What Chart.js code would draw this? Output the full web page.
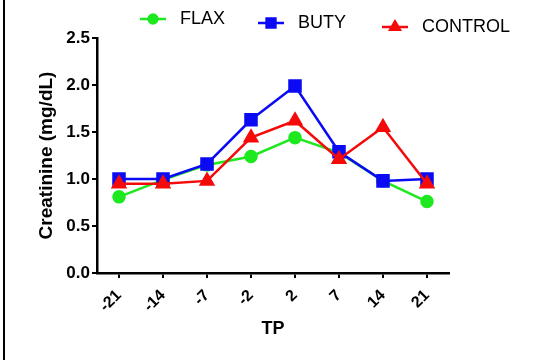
<!DOCTYPE html>
<html>
<head>
<meta charset="utf-8">
<script src="https://cdn.jsdelivr.net/npm/chart.js@4/dist/chart.umd.min.js"></script>
<style>
    html, body { margin: 0; padding: 0; background: #fff; }
    #wrap { position: relative; width: 550px; height: 360px; }
</style>
</head>
<body>
<div id="wrap"><canvas id="creatinineChart" width="550" height="360"></canvas></div>
<script>
// Données
const timePoints = ['-21', '-14', '-7', '-2', '2', '7', '14', '21'];
const flaxValues = [0.81, 0.99, 1.15, 1.24, 1.44, 1.28, 0.98, 0.76];
const butyValues = [1.00, 1.00, 1.16, 1.63, 1.99, 1.29, 0.98, 1.00];
const controlValues = [0.95, 0.95, 0.98, 1.44, 1.62, 1.21, 1.55, 0.95];
const yTicks = [0, 0.5, 1.0, 1.5, 2.0, 2.5];

const FONT = "'Liberation Sans', Arial, sans-serif";

/**
 * Cadre à gauche de la figure
 */
const framePlugin = {
    id: 'frame',
    beforeDraw(chart) {
        const ctx = chart.ctx;
        ctx.save();
        ctx.fillStyle = '#000';
        ctx.fillRect(3, 0, 2, chart.height);
        ctx.restore();
    }
};

/**
 * Légende décalée (chaque entrée à sa propre hauteur)
 */
const staggeredLegend = {
    id: 'staggeredLegend',
    afterDraw(chart, args, opts) {
        const ctx = chart.ctx;
        ctx.save();
        chart.data.datasets.forEach((ds, i) => {
            const pos = opts.items[i];
            ctx.strokeStyle = ds.borderColor;
            ctx.lineWidth = 2.5;
            ctx.beginPath();
            ctx.moveTo(pos.x, pos.y);
            ctx.lineTo(pos.x + 26, pos.y);
            ctx.stroke();
            Chart.helpers.drawPoint(ctx, {
                pointStyle: ds.pointStyle,
                radius: ds.pointRadius * 0.8,
                borderWidth: 1
            }, pos.x + 13, pos.y);
            ctx.fillStyle = ds.pointBackgroundColor;
            ctx.fill();
            ctx.fillStyle = '#000';
            ctx.font = '18px ' + FONT;
            ctx.textBaseline = 'middle';
            ctx.textAlign = 'left';
            ctx.fillText(ds.label, pos.x + 40, pos.y);
        });
        ctx.restore();
    }
};

function makeSeries(label, data, color, style, radius, order) {
    return {
        label: label,
        data: data,
        borderColor: color,
        backgroundColor: color,
        pointBackgroundColor: color,
        pointBorderColor: color,
        pointStyle: style,
        pointRadius: radius,
        pointHoverRadius: radius,
        borderWidth: 2.5,
        tension: 0,
        order: order
    };
}

document.addEventListener('DOMContentLoaded', function() {
    if (typeof Chart === 'undefined') {
        console.error('Chart.js n\'est pas chargé.');
        return;
    }

    new Chart(document.getElementById('creatinineChart'), {
        type: 'line',
        data: {
            labels: timePoints,
            datasets: [
                makeSeries('FLAX', flaxValues, '#1EE81E', 'circle', 5.5, 3),
                makeSeries('BUTY', butyValues, '#0A0AF5', 'rect', 7.8, 2),
                makeSeries('CONTROL', controlValues, '#F50A0A', 'triangle', 7, 1)
            ]
        },
        options: {
            responsive: false,
            animation: false,
            layout: {
                padding: { top: 38, right: 101, left: 0, bottom: 0 }
            },
            plugins: {
                legend: { display: false },
                tooltip: { enabled: false },
                staggeredLegend: {
                    items: [
                        { x: 140, y: 19 },
                        { x: 258, y: 23 },
                        { x: 382, y: 27 }
                    ]
                }
            },
            scales: {
                x: {
                    type: 'category',
                    offset: true,
                    afterFit(scale) { scale.height = 87; },
                    border: { display: true, color: '#000', width: 2.5 },
                    grid: {
                        display: true,
                        drawOnChartArea: false,
                        drawTicks: true,
                        tickLength: 5,
                        color: '#000',
                        lineWidth: 2,
                        offset: false
                    },
                    ticks: {
                        color: '#000',
                        autoSkip: false,
                        minRotation: 45,
                        maxRotation: 45,
                        padding: 8,
                        font: { family: FONT, size: 16, weight: 'bold' }
                    },
                    title: {
                        display: true,
                        text: 'TP',
                        color: '#000',
                        padding: { top: 0, bottom: 20 },
                        font: { family: FONT, size: 18, weight: 'bold' }
                    }
                },
                y: {
                    min: 0,
                    max: 2.5,
                    afterFit(scale) { scale.width = 97; },
                    afterBuildTicks(scale) {
                        scale.ticks = yTicks.map(v => ({ value: v }));
                    },
                    border: { display: true, color: '#000', width: 2.5 },
                    grid: {
                        display: true,
                        drawOnChartArea: false,
                        drawTicks: true,
                        tickLength: 5,
                        color: '#000',
                        lineWidth: 2
                    },
                    ticks: {
                        color: '#000',
                        padding: 2,
                        font: { family: FONT, size: 17, weight: 'bold' },
                        callback: function(value) {
                            return Number(value).toFixed(1);
                        }
                    },
                    title: {
                        display: true,
                        text: 'Creatinine (mg/dL)',
                        color: '#000',
                        padding: { top: 35, bottom: 0 },
                        font: { family: FONT, size: 19, weight: 'bold' }
                    }
                }
            }
        },
        plugins: [framePlugin, staggeredLegend]
    });
});
</script>
</body>
</html>
